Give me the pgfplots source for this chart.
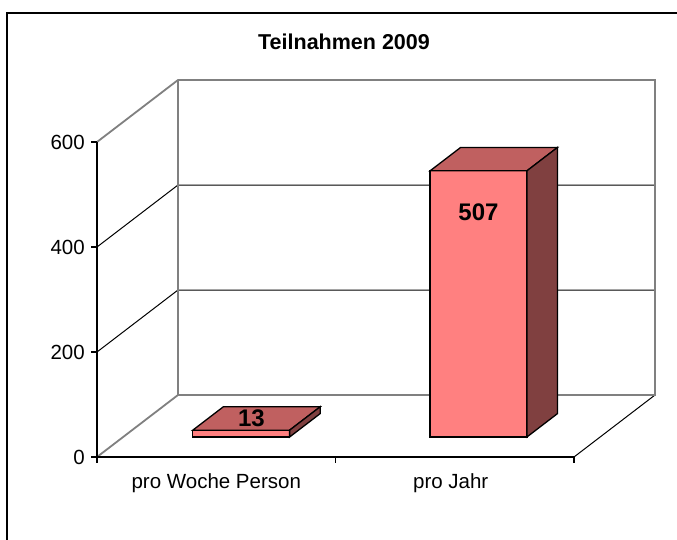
\documentclass[border=0pt]{standalone}
\usepackage{pgfplots}
\pgfplotsset{compat=1.18}
\usepackage{fontspec}
\setmainfont{Liberation Sans}
\definecolor{barfront}{HTML}{FF8080}
\definecolor{bartop}{HTML}{C06060}
\definecolor{barside}{HTML}{804040}
\definecolor{wallgray}{HTML}{808080}
\newcommand\ticksfont{\fontsize{20.5}{24}\selectfont}
\newcommand\labfont{\bfseries\fontsize{24}{28}\selectfont}
\begin{document}
\begin{tikzpicture}
\useasboundingbox (0pt,0pt) rectangle (677pt,-540pt);
\fill[white] (0pt,0pt) rectangle (677pt,-540pt);
\draw[line width=1.6pt] (7pt,-560pt) -- (7pt,-13pt) -- (700pt,-13pt);
\node[font=\bfseries\fontsize{21.5}{26}\selectfont, anchor=base, inner sep=0pt] at (344pt,-50pt) {Teilnahmen 2009};
\begin{axis}[
  at={(97pt,-457pt)}, anchor=origin,
  x={(238.5pt,0pt)}, y={(81pt,62pt)}, z={(0pt,0.525pt)},
  xmin=0, xmax=2, ymin=0, ymax=1, zmin=0, zmax=600,
  hide axis, clip=false,
]
% grid lines on left and back walls
\pgfplotsinvokeforeach{200,400}{
  \draw[black, line width=1pt] (axis cs:0,0,#1) -- (axis cs:0,1,#1) -- (axis cs:2,1,#1);
}
\draw[black, line width=1pt] (axis cs:2,0,0) -- (axis cs:2,1,0);
% wall edges
\draw[wallgray, line width=1.8pt] (axis cs:0,0,0) -- (axis cs:0,1,0) -- (axis cs:2,1,0) -- (axis cs:2,1,600) -- (axis cs:0,1,600) -- (axis cs:0,0,600);
\draw[wallgray, line width=1.8pt] (axis cs:0,1,0) -- (axis cs:0,1,600);
% axes
\draw[black, line width=1.3pt] (axis cs:0,0,600) -- (axis cs:0,0,0) -- (axis cs:2,0,0);
\pgfplotsinvokeforeach{0,200,400,600}{
  \draw[black, line width=1.2pt] (axis cs:0,0,#1) -- ++(-6pt,0pt);
  \node[anchor=east, inner sep=0pt, xshift=-12pt, font=\ticksfont] at (axis cs:0,0,#1) {#1};
}
\pgfplotsinvokeforeach{0,1,2}{
  \draw[black, line width=1.2pt] (axis cs:#1,0,0) -- ++(0pt,-6pt);
}
\node[anchor=base, inner sep=0pt, yshift=-31pt, font=\ticksfont] at (axis cs:0.5,0,0) {pro Woche Person};
\node[anchor=base, inner sep=0pt, yshift=-31pt, xshift=-4pt, font=\ticksfont] at (axis cs:1.5,0,0) {pro Jahr};
% bar 1: pro Woche Person = 13
\addplot3[fill=barfront, draw=black, line width=1.3pt, mark=none] coordinates {(0.292,0.3226,0) (0.698,0.3226,0) (0.698,0.3226,13) (0.292,0.3226,13)} -- cycle;
\addplot3[fill=bartop, draw=black, line width=1.3pt, mark=none] coordinates {(0.292,0.3226,13) (0.698,0.3226,13) (0.698,0.70,13) (0.292,0.70,13)} -- cycle;
\addplot3[fill=barside, draw=black, line width=1.3pt, mark=none] coordinates {(0.698,0.3226,0) (0.698,0.70,0) (0.698,0.70,13) (0.698,0.3226,13)} -- cycle;
% bar 2: pro Jahr = 507
\addplot3[fill=barfront, draw=black, line width=1.3pt, mark=none] coordinates {(1.287,0.3226,0) (1.693,0.3226,0) (1.693,0.3226,507) (1.287,0.3226,507)} -- cycle;
\addplot3[fill=bartop, draw=black, line width=1.3pt, mark=none] coordinates {(1.287,0.3226,507) (1.693,0.3226,507) (1.693,0.70,507) (1.287,0.70,507)} -- cycle;
\addplot3[fill=barside, draw=black, line width=1.3pt, mark=none] coordinates {(1.693,0.3226,0) (1.693,0.70,0) (1.693,0.70,507) (1.693,0.3226,507)} -- cycle;
% data labels
\node[anchor=center, inner sep=0pt, font=\labfont] at (axis cs:0.474,0.51,13) {13};
\node[anchor=center, inner sep=0pt, font=\labfont] at (axis cs:1.49,0.3226,428.6) {507};
\end{axis}
\end{tikzpicture}
\end{document}
